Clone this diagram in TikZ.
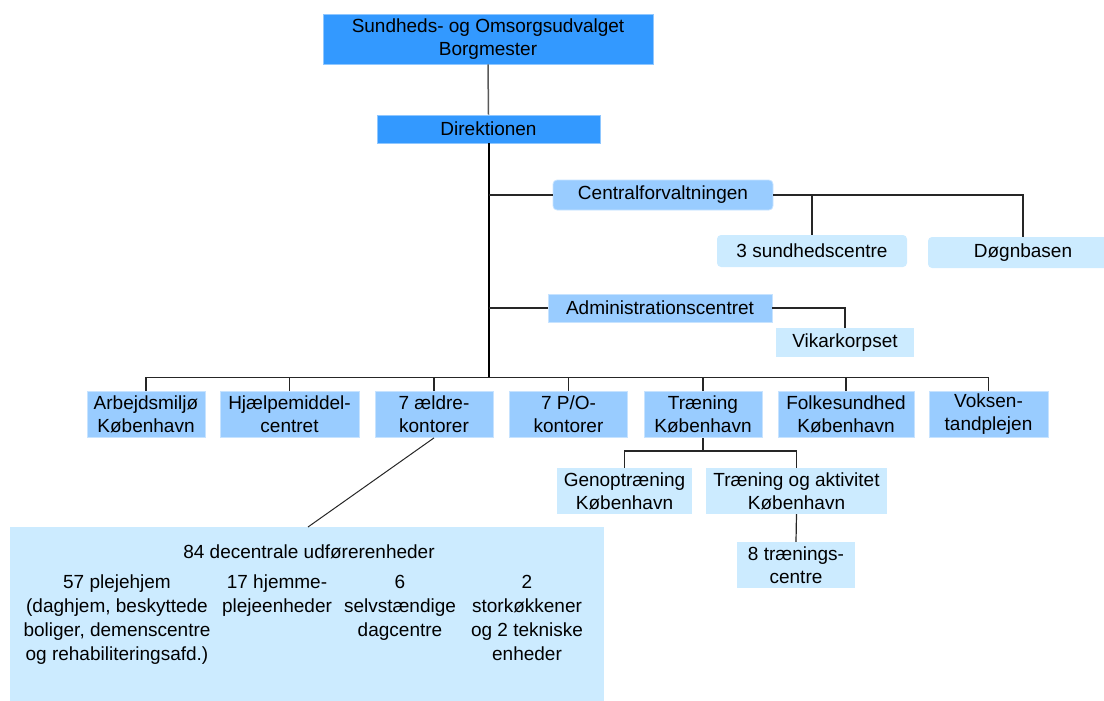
\documentclass[tikz,border=0pt]{standalone}
\usepackage{fontspec}
\setmainfont{Liberation Sans}
\definecolor{cdark}{HTML}{3399FF}
\definecolor{cmid}{HTML}{99CCFF}
\definecolor{clight}{HTML}{CCEBFF}
\begin{document}
\begin{tikzpicture}[x=1pt,y=-1pt,
  box/.style={inner sep=0pt, align=center, font=\fontsize{19}{23}\selectfont, text=black},
  sz/.style 2 args={minimum width=#1pt, minimum height=#2pt},
  dk/.style={box, fill=cdark, draw=cdark!55!white, line width=0.8pt},
  md/.style={box, fill=cmid, draw=cmid!55!white, line width=0.8pt},
  lt/.style={box, fill=clight},
  rnd/.style={rounded corners=4pt},
  txt/.style={inner sep=0pt, align=center, font=\fontsize{19}{24}\selectfont, text=black},
  conn/.style={draw=black!85, line width=1.2pt},
  topconn/.style={draw=black!65, line width=1.5pt},
  trunk/.style={draw=black, line width=2pt}
]
\useasboundingbox (0,0) rectangle (1104,701);

% nodes
\node[dk, sz={330}{50}] (top) at (488,39) {Sundheds- og Omsorgsudvalget\\Borgmester};
\node[dk, sz={223}{28}] (dir) at (488.5,129) {Direktionen};
\node[md, rnd, sz={220}{30}] (cf) at (663,195) {Centralforvaltningen};
\node[lt, rnd, sz={190}{32}] (s3) at (812,251) {3 sundhedscentre};
\node[lt, rnd, sz={190}{31}] (dogn) at (1023,252.5) {Døgnbasen};
\node[md, sz={224}{28}] (adm) at (660,308) {Administrationscentret};
\node[lt, sz={138}{29}] (vik) at (845,342.5) {Vikarkorpset};

\node[md, sz={118}{46}] (b1) at (146,414.5) {Arbejdsmiljø\\København};
\node[md, sz={139}{46}] (b2) at (289.5,414.5) {Hjælpemiddel-\\centret};
\node[md, sz={118}{46}] (b3) at (434,414.5) {7 ældre-\\kontorer};
\node[md, sz={118}{46}] (b4) at (568.5,414.5) {7 P/O-\\kontorer};
\node[md, sz={118}{46}] (b5) at (703,414.5) {Træning\\København};
\node[md, sz={136}{46}] (b6) at (846,414.5) {Folkesundhed\\København};
\node[md, sz={119}{46}] (b7) at (988.5,414.5) {Voksen-\\tandplejen};

\node[lt, sz={135}{46}] (gen) at (624.5,491) {Genoptræning\\København};
\node[lt, sz={181}{46}] (tog) at (796.5,491) {Træning og aktivitet\\København};
\node[lt, sz={118}{46}] (tc8) at (796,565) {8 trænings-\\centre};

\node[lt, sz={594}{174}, anchor=north west] (big) at (10,527) {};
\node[txt, anchor=base] (t84) at (309,558.5) {84 decentrale udførerenheder};
\node[txt, anchor=north] (c1) at (117,575) {57 plejehjem\\(daghjem, beskyttede\\boliger, demenscentre\\og rehabiliteringsafd.)};
\node[txt, anchor=north] (c2) at (277,575) {17 hjemme-\\plejeenheder};
\node[txt, anchor=north] (c3) at (400,575) {6\\selvstændige\\dagcentre};
\node[txt, anchor=north] (c4) at (527,575) {2\\storkøkkener\\og 2 tekniske\\enheder};

% helper coordinates
\coordinate (bus) at (488,377.5);
\coordinate (tbus) at (704,451);
\coordinate (bigin) at (308,527);

% connectors
\draw[topconn] (top.south) -- (dir.north);
\draw[trunk] (dir.south) -- (dir.south |- bus);
\draw[conn] (dir.south |- cf.west) -- (cf.west);
\draw[conn] (dir.south |- adm.west) -- (adm.west);
\draw[conn] (cf.east) -| (dogn.north);
\draw[conn] (s3.north) -- (s3.north |- cf.east);
\draw[conn] (adm.east) -| (vik.north);

\draw[conn] (b1.north) -- (b1.north |- bus) -- (b7.north |- bus) -- (b7.north);
\foreach \n in {b2,b3,b4,b5,b6} \draw[conn] (\n.north) -- (\n.north |- bus);

\draw[conn] (b5.south) -- (b5.south |- tbus);
\draw[conn] (gen.north) -- (gen.north |- tbus) -- (tog.north |- tbus) -- (tog.north);
\draw[conn] (tog.south) -- (tc8.north);
\draw[draw=black!85, line width=1pt] (b3.south) -- (bigin);
\end{tikzpicture}
\end{document}
